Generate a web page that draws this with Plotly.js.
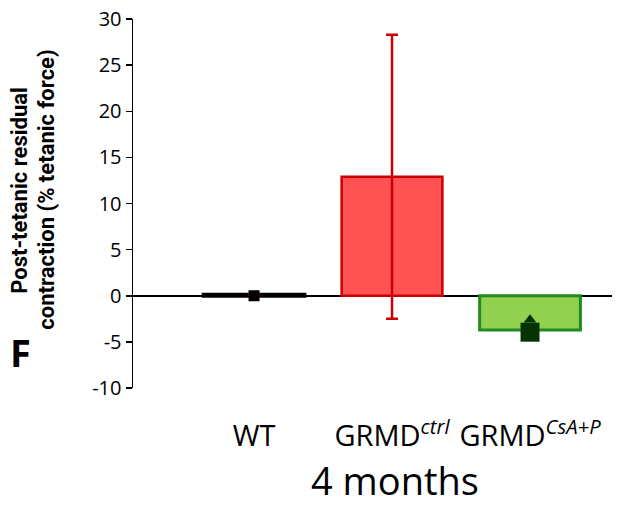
<!DOCTYPE html>
<html><head><meta charset="utf-8">
<script src="https://cdn.plot.ly/plotly-3.0.1.min.js"></script>
<style>body{margin:0;background:#fff}#c{width:625px;height:506px}</style>
</head><body><div id="c"></div>
<script>
const categories = ["WT", "GRMD<i><sup>ctrl</sup></i>", "GRMD<i><sup>CsA+P</sup></i>"];
const barValues = [0.1, 12.9, -3.7];
const errorValues = [0, 15.4, 0];
const squareMarkerValues = [0, null, -3.95];
const triangleMarkerValues = [null, null, -2.6];
const yTickValues = [-10, -5, 0, 5, 10, 15, 20, 25, 30];
const yTickLabels = ["-10", "-5", "0", "5", "10", "15", "20", "25", "30"];
const yTitleLines = ["Post-tetanic residual", "contraction (% tetanic force)"];
const xTitle = "4 months";
const panelLabel = "F";
const fillColors = ["#000000", "#FF5252", "#92D050"];
const lineColors = ["#000000", "#CC0000", "#1E8C1E"];
const squareColors = ["#000000", "#000000", "#053305"];

const traces = [
  {type:"bar", x:categories, y:barValues, width:0.73,
   marker:{color:fillColors, line:{color:lineColors, width:[4,2.5,3]}},
   error_y:{type:"data", array:errorValues, visible:true, color:"#CC0000", thickness:2.5, width:6},
   hoverinfo:"none"},
  {type:"scatter", mode:"markers", x:categories, y:triangleMarkerValues,
   marker:{symbol:"triangle-up", size:11, color:"#053305", opacity:1, line:{width:0}}, hoverinfo:"none"},
  {type:"scatter", mode:"markers", x:categories, y:squareMarkerValues,
   marker:{symbol:"square", size:[11,0,19], color:squareColors, opacity:1, line:{width:0}}, hoverinfo:"none"}
];

const layout = {
  width:625, height:506, showlegend:false,
  paper_bgcolor:"#fff", plot_bgcolor:"#fff",
  margin:{l:133, r:13, t:19, b:118},
  font:{family:"Open Sans, sans-serif", color:"#000"},
  xaxis:{type:"category", range:[-0.877, 2.594], showline:false, showgrid:false, zeroline:false,
    ticks:"", tickfont:{size:29}, ticklabelstandoff:28},
  yaxis:{range:[-10,30], tickvals:yTickValues, ticktext:yTickLabels, showline:true, linecolor:"#000", linewidth:1.5,
    ticks:"outside", ticklen:6, tickcolor:"#000", tickwidth:1.5,
    showgrid:false, zeroline:true, zerolinecolor:"#000", zerolinewidth:1.5,
    tickfont:{size:20}, ticklabelstandoff:0},
  annotations:[
    {text:"<b>"+yTitleLines[0]+"</b>", textangle:-90, xref:"paper", yref:"paper", x:-0.236, y:0.537,
     xanchor:"center", yanchor:"middle", showarrow:false, font:{family:"Roboto, sans-serif", size:22}},
    {text:"<b>"+yTitleLines[1]+"</b>", textangle:-90, xref:"paper", yref:"paper", x:-0.180, y:0.537,
     xanchor:"center", yanchor:"middle", showarrow:false, font:{family:"Roboto, sans-serif", size:22}},
    {text:xTitle, xref:"paper", yref:"paper", x:0.547, y:-0.249, xanchor:"center", yanchor:"middle",
     showarrow:false, font:{size:38}},
    {text:"<b>"+panelLabel+"</b>", xref:"paper", yref:"paper", x:-0.235, y:0.097,
     showarrow:false, font:{size:38}, xanchor:"center", yanchor:"middle"}
  ]
};
Plotly.newPlot("c", traces, layout, {displayModeBar:false, staticPlot:true});
</script></body></html>
